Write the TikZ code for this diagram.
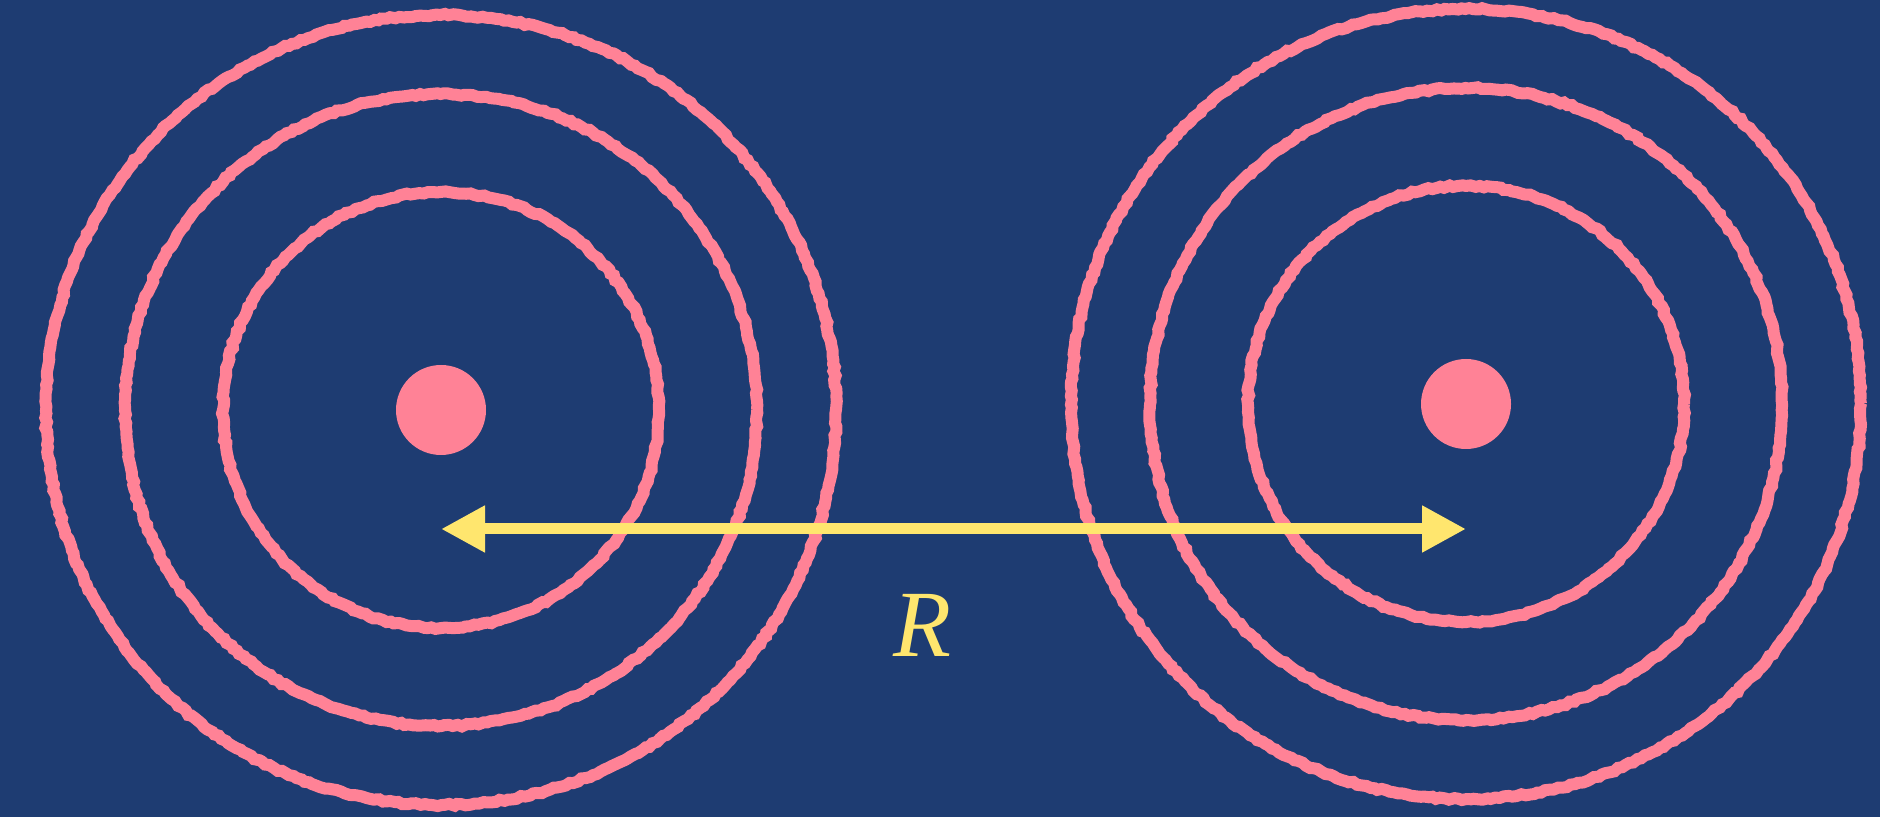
\documentclass[tikz,border=0pt]{standalone}
\usepackage{fontspec}
\setmainfont{Liberation Serif}
\usetikzlibrary{arrows.meta,decorations.pathmorphing}
\definecolor{slate}{RGB}{30,60,114}
\definecolor{chalkpink}{RGB}{255,130,150}
\definecolor{chalkyellow}{RGB}{255,230,110}
\tikzset{
  ring/.style={draw=chalkpink, line width=0.12cm,
    decorate, decoration={random steps, segment length=1.2pt, amplitude=0.3pt}},
  core/.style={circle, fill=chalkpink, minimum size=0.9cm, inner sep=0pt},
  bond/.style={chalkyellow, line width=0.11cm,
    {Triangle[length=4.4mm,width=4.4mm]}-{Triangle[length=4.4mm,width=4.4mm]}},
}
\begin{document}
\begin{tikzpicture}[every node/.style={font=\fontsize{27}{31}\selectfont\itshape}]
\pgfmathsetseed{7}
\fill[slate] (0,0) rectangle (18.8,8.17);
\useasboundingbox (0,0) rectangle (18.8,8.17);
% the two atoms
\node[core] (lcore) at (4.41,4.07) {};
\node[core] (rcore) at (14.66,4.13) {};
% shells
\foreach \r in {2.18,3.16,3.95} {
  \draw[ring] (lcore.center) circle (\r);
  \draw[ring] (rcore.center) circle (\r);
}
% distance between nuclei
\coordinate (la) at (4.41,2.88);
\coordinate (ra) at (14.66,2.88);
\draw[bond] (la) -- (ra);
\node[text=chalkyellow] (dist) at (9.22,1.92) {R};
\end{tikzpicture}
\end{document}
